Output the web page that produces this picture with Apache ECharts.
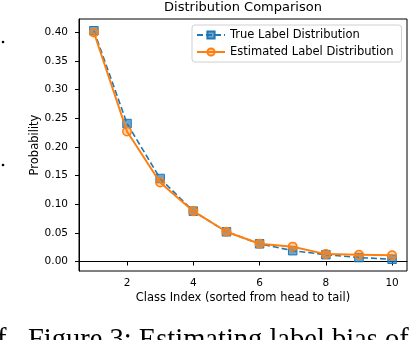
<!DOCTYPE html>
<html>
<head>
<meta charset="utf-8">
<script src="https://cdn.jsdelivr.net/npm/echarts@6/dist/echarts.min.js"></script>
<style>
html,body{margin:0;padding:0;background:#fff;}
#chart{width:414px;height:340px;}
</style>
</head>
<body>
<div id="chart"></div>
<script>
const classIndex = [1, 2, 3, 4, 5, 6, 7, 8, 9, 10];
const trueDist = [0.403, 0.241, 0.145, 0.088, 0.052, 0.031, 0.019, 0.012, 0.007, 0.004];
const estDist = [0.400, 0.227, 0.138, 0.088, 0.052, 0.031, 0.026, 0.013, 0.012, 0.011];
const xTicks = [2, 4, 6, 8, 10];
const yTicks = [0, 0.05, 0.10, 0.15, 0.20, 0.25, 0.30, 0.35, 0.40];

const font = 'DejaVu Sans';
const chart = echarts.init(document.getElementById('chart'), null, {renderer: 'canvas'});
chart.setOption({
  animation: false,
  backgroundColor: '#fff',
  textStyle: {fontFamily: font},
  title: {
    text: 'Distribution Comparison',
    left: 243, top: 1, textAlign: 'center', padding: 0,
    textStyle: {fontFamily: font, fontSize: 13, fontWeight: 'normal', color: '#000'}
  },
  legend: {
    left: 192, top: 25,
    orient: 'vertical',
    itemWidth: 28, itemHeight: 9, itemGap: 5,
    padding: [4, 8, 4, 4],
    borderColor: '#d0d0d0', borderWidth: 1, borderRadius: 3,
    backgroundColor: 'rgba(255,255,255,0.8)',
    textStyle: {fontFamily: font, fontSize: 11.5, color: '#000'},
    data: ['True Label Distribution', 'Estimated Label Distribution']
  },
  grid: {left: 79, right: 7, top: 19, bottom: 69, show: true, borderColor: '#000', borderWidth: 1, containLabel: false},
  xAxis: {
    type: 'value', min: 0.55, max: 10.45,
    name: 'Class Index (sorted from head to tail)',
    nameLocation: 'middle', nameGap: 21, nameMoveOverlap: false,
    nameTextStyle: {fontFamily: font, fontSize: 11.5, color: '#000'},
    axisLine: {show: true, lineStyle: {color: '#000', width: 1}},
    axisTick: {show: true, customValues: xTicks, length: 4, lineStyle: {color: '#000'}},
    axisLabel: {customValues: xTicks, fontFamily: font, fontSize: 10.5, color: '#000', margin: 7},
    splitLine: {show: false}
  },
  yAxis: {
    type: 'value', min: -0.0165, max: 0.4235,
    name: 'Probability',
    nameLocation: 'middle', nameGap: 38, nameRotate: 90, nameMoveOverlap: false,
    nameTextStyle: {fontFamily: font, fontSize: 11.5, color: '#000'},
    axisLine: {show: true, lineStyle: {color: '#000', width: 1}},
    axisTick: {show: true, customValues: yTicks, length: 4, lineStyle: {color: '#000'}},
    axisLabel: {customValues: yTicks, fontFamily: font, fontSize: 10.5, color: '#000', margin: 11,
      formatter: v => v.toFixed(2)},
    splitLine: {show: false}
  },
  series: [
    {
      name: 'True Label Distribution',
      type: 'line',
      data: classIndex.map((x, i) => [x, trueDist[i]]),
      symbol: 'rect', symbolSize: 8.5,
      lineStyle: {color: '#1f77b4', width: 1.6, type: [6, 3]},
      itemStyle: {color: 'rgba(31,119,180,0.65)', borderColor: '#1f77b4', borderWidth: 1},
      z: 2
    },
    {
      name: 'Estimated Label Distribution',
      type: 'line',
      data: classIndex.map((x, i) => [x, estDist[i]]),
      symbol: 'circle', symbolSize: 8.5,
      lineStyle: {color: '#ff7f0e', width: 2},
      itemStyle: {color: 'rgba(255,127,14,0.35)', borderColor: '#ff7f0e', borderWidth: 1.5},
      z: 3
    }
  ],
  graphic: [
    {type: 'text', left: 28, top: 326, style: {text: 'Figure 3: Estimating label bias of', font: '28.5px "Liberation Serif"', fill: '#000'}},
    {type: 'text', left: -3, top: 326, style: {text: 'f', font: '28.5px "Liberation Serif"', fill: '#000'}},
    {type: 'circle', shape: {cx: 3, cy: 42, r: 1.3}, style: {fill: '#000'}},
    {type: 'circle', shape: {cx: 3, cy: 165, r: 1.3}, style: {fill: '#000'}}
  ]
});
</script>
</body>
</html>
